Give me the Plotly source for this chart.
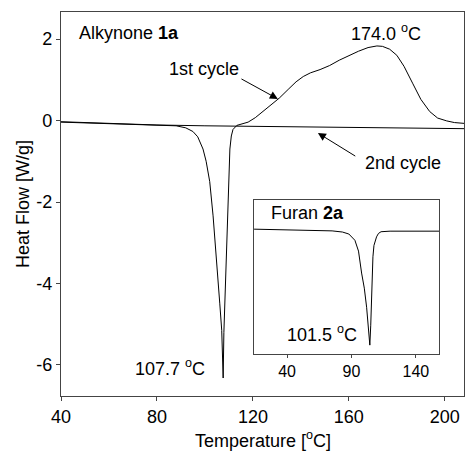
import plotly.graph_objects as go

# ---------------- data ----------------
# 1st heating cycle (Alkynone 1a)
cycle1_T = [40, 50, 60, 70, 80, 88, 92, 95, 97, 99.2, 100.5, 102, 103.4, 104.2, 105.2,
            106.2, 107, 107.6, 107.9, 108.5, 109.2, 109.6, 110.0, 110.4, 111,
            111.7, 113.3, 115, 118, 121, 124, 127, 131, 135, 138, 141, 144, 148, 152, 156,
            160, 164, 168, 171.7, 174, 177, 180, 183, 186.7, 190, 193.7, 197, 200.8, 204, 208]
cycle1_HF = [-0.04, -0.06, -0.08, -0.10, -0.11, -0.13, -0.18, -0.27, -0.40, -0.70, -1.0, -1.5,
             -2.34, -2.9, -3.7, -4.5, -5.15, -6.32, -5.2, -4.0, -2.66, -1.93, -1.3, -0.7, -0.38,
             -0.22, -0.12, -0.09, -0.04, 0.07, 0.22, 0.35, 0.55, 0.78, 0.95, 1.08, 1.17, 1.25,
             1.35, 1.48, 1.6, 1.7, 1.79, 1.83, 1.82, 1.75, 1.6, 1.33, 0.9, 0.52, 0.22, 0.06,
             -0.01, -0.05, -0.07]

# 2nd heating cycle
cycle2_T = [40, 60, 80, 100, 120, 140, 160, 180, 208]
cycle2_HF = [-0.03, -0.07, -0.11, -0.13, -0.14, -0.15, -0.17, -0.18, -0.20]

# Inset: Furan 2a (arbitrary heat-flow units)
furan_T = [14.4, 40, 60, 75, 83, 88, 92.7, 95.5, 97.9, 100, 101.8, 103.3, 104.3, 105.0,
           105.6, 106.2, 106.7, 107.5, 108.5, 109.5, 111, 113, 120, 140, 158]
furan_HF = [0.07, 0.05, 0.03, 0.01, -0.03, -0.1, -0.32, -0.7, -1.47, -2.0, -2.67, -3.4,
            -4.0, -3.3, -2.4, -1.6, -0.9, -0.5, -0.3, -0.2, -0.08, -0.02, 0, 0, 0]

main_xticks = [40, 80, 120, 160, 200]
main_yticks = [-6, -4, -2, 0, 2]
main_yticklabels = ["-6", "-4", "-2", "0", "2"]
inset_xticks = [40, 90, 140]

FONT = "Liberation Sans, Arial, sans-serif"
AXC = "#444444"

fig = go.Figure()
fig.add_trace(go.Scatter(x=cycle1_T, y=cycle1_HF, mode="lines",
                         line=dict(color="black", width=1), xaxis="x", yaxis="y"))
fig.add_trace(go.Scatter(x=cycle2_T, y=cycle2_HF, mode="lines",
                         line=dict(color="black", width=1), xaxis="x", yaxis="y"))
fig.add_trace(go.Scatter(x=furan_T, y=furan_HF, mode="lines",
                         line=dict(color="black", width=1), xaxis="x2", yaxis="y2"))

fig.update_layout(
    width=465, height=453,
    margin=dict(l=61, r=1, t=12, b=57),
    paper_bgcolor="white", plot_bgcolor="white",
    showlegend=False,
    font=dict(family=FONT, size=18, color="black"),
    xaxis=dict(range=[40, 208], tickvals=main_xticks, ticks="outside", ticklen=4,
               tickcolor=AXC, showline=True, linecolor=AXC, linewidth=1.3, mirror=True,
               showgrid=False, zeroline=False, tickfont=dict(size=18), domain=[0, 1]),
    yaxis=dict(range=[-6.761, 2.663], tickvals=main_yticks, ticktext=main_yticklabels,
               ticks="outside", ticklen=4,
               tickcolor=AXC, showline=True, linecolor=AXC, linewidth=1.3, mirror=True,
               showgrid=False, zeroline=False, tickfont=dict(size=18), domain=[0, 1]),
    xaxis2=dict(range=[14.4, 158], tickvals=inset_xticks, ticks="outside", ticklen=3,
                tickcolor=AXC, showline=True, linecolor=AXC, linewidth=1.2, mirror=True,
                showgrid=False, zeroline=False, tickfont=dict(size=16),
                domain=[0.479, 0.938], anchor="y2"),
    yaxis2=dict(range=[-4.316, 1.088], showticklabels=False, ticks="",
                showline=True, linecolor=AXC, linewidth=1.2, mirror=True,
                showgrid=False, zeroline=False, domain=[0.109, 0.510], anchor="x2"),
)

ann = []
def txt(x, y, t, xref="x", yref="y", size=18, xanchor="left", angle=0):
    ann.append(dict(x=x, y=y, xref=xref, yref=yref, text=t, showarrow=False,
                    xanchor=xanchor, yanchor="middle", textangle=angle,
                    font=dict(size=size, family=FONT, color="black")))

txt(46.7, 2.15, "Alkynone <b>1a</b>")
txt(84.2, 1.26, "1st cycle")
txt(160, 2.17, "174.0 <sup>o</sup>C")
txt(165.8, -1.04, "2nd cycle")
txt(70, -6.05, "107.7 <sup>o</sup>C")
txt(26.0, 0.63, "Furan <b>2a</b>", xref="x2", yref="y2")
txt(38.4, -3.58, "101.5 <sup>o</sup>C", xref="x2", yref="y2")
# axis titles
txt(0.5, -0.113, "Temperature [<sup>o</sup>C]", xref="paper", yref="paper", xanchor="center")
txt(-0.0943, 0.5, "Heat Flow [W/g]", xref="paper", yref="paper", xanchor="center", angle=-90)

# arrows
ann.append(dict(x=130.4, y=0.53, ax=114.6, ay=1.04, xref="x", yref="y", axref="x", ayref="y",
                text="", showarrow=True, arrowhead=2, arrowsize=1.6, arrowwidth=1,
                arrowcolor="black"))
ann.append(dict(x=147.1, y=-0.307, ax=163.3, ay=-0.896, xref="x", yref="y", axref="x", ayref="y",
                text="", showarrow=True, arrowhead=2, arrowsize=1.6, arrowwidth=1,
                arrowcolor="black"))

fig.update_layout(annotations=ann)
fig.write_html("out.html")
